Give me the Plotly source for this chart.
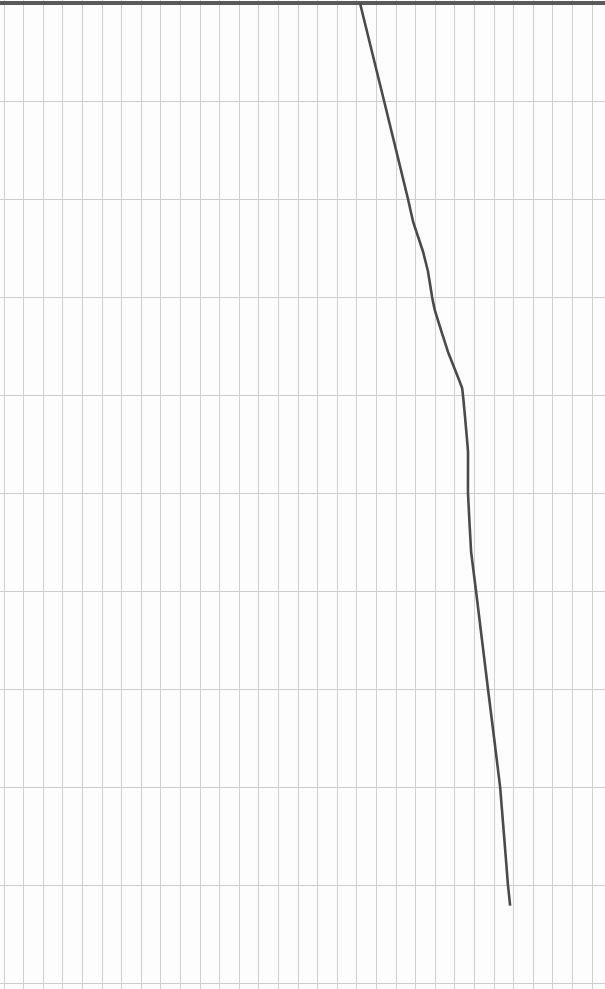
import plotly.graph_objects as go

# Curve (grid units: x = vertical rulings, y = horizontal rulings, downward)
depth = [0.0, 1.0, 2.0, 2.23, 2.54, 2.74, 3.0, 3.15, 3.56, 3.93, 4.58, 5.0, 5.6, 6.0, 7.0, 8.0, 9.0, 9.21]
value = [18.16, 19.39, 20.61, 20.87, 21.38, 21.63, 21.84, 22.0, 22.65, 23.37, 23.67, 23.67, 23.83, 24.08, 24.69, 25.31, 25.71, 25.82]

fig = go.Figure()
fig.add_trace(go.Scatter(
    x=value, y=depth, mode="lines",
    line=dict(color="#4a4a4a", width=2.6, shape="spline", smoothing=0.2),
    hoverinfo="skip", showlegend=False,
))

fig.update_layout(
    width=605, height=989,
    margin=dict(l=0, r=0, t=0, b=0),
    paper_bgcolor="#fdfdfd", plot_bgcolor="#fdfdfd",
    showlegend=False,
)
fig.update_xaxes(
    range=[-0.204, 30.66], dtick=1, tick0=0,
    showgrid=True, gridcolor="#cfcfcf", gridwidth=1,
    zeroline=False, showticklabels=False, ticks="", showline=False,
)
fig.update_yaxes(
    range=[10.061, -0.0306], dtick=1, tick0=0,
    showgrid=True, gridcolor="#cdcdcd", gridwidth=1,
    zeroline=True, zerolinecolor="#5a5a5a", zerolinewidth=4,
    showticklabels=False, ticks="", showline=False,
)

fig.write_html(
    "out.html",
    config={"displayModeBar": False, "staticPlot": True},
    post_script="document.body.style.margin='0';document.body.style.overflow='hidden';",
)
